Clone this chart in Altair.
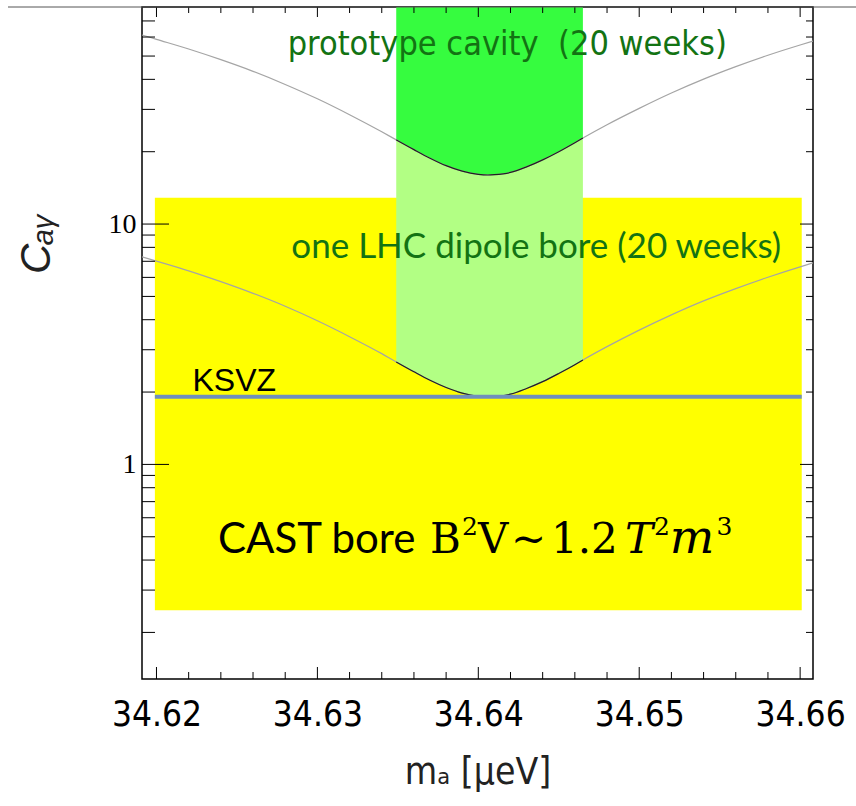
import altair as alt
import pandas as pd

# ---------------- data ----------------
mass = [34.6191, 34.620, 34.622, 34.624, 34.626, 34.628, 34.630, 34.632, 34.634, 34.6349,
        34.636, 34.637, 34.638, 34.639, 34.640, 34.6406, 34.641, 34.642, 34.643, 34.644,
        34.645, 34.646, 34.6465, 34.648, 34.650, 34.652, 34.654, 34.656, 34.658, 34.660, 34.6608]
c_lhc = [7.30, 7.01, 6.39, 5.76, 5.15, 4.55, 3.96, 3.40, 2.89, 2.67,
         2.43, 2.24, 2.09, 1.98, 1.92, 1.91, 1.915, 1.96, 2.07, 2.21,
         2.39, 2.60, 2.72, 3.09, 3.62, 4.19, 4.79, 5.39, 6.01, 6.64, 6.89]
c_proto = [61.2, 58.7, 53.5, 48.3, 43.2, 38.1, 33.2, 28.5, 24.2, 22.4,
           20.4, 18.8, 17.5, 16.6, 16.1, 16.0, 16.05, 16.4, 17.3, 18.5,
           20.0, 21.8, 22.8, 25.9, 30.3, 35.1, 40.1, 45.2, 50.4, 55.6, 57.7]

cast_m = [34.6199, 34.6601]
cast_c = [0.2475, 12.87]
band_m = [34.6349, 34.6465]
ksvz_c = 1.91

x_major = [34.62, 34.63, 34.64, 34.65, 34.66]
x_minor = [34.622, 34.624, 34.626, 34.628, 34.632, 34.634, 34.636, 34.638,
           34.642, 34.644, 34.646, 34.648, 34.652, 34.654, 34.656, 34.658]
y_major = [1, 10]
y_minor = [0.2, 0.3, 0.4, 0.5, 0.6, 0.7, 0.8, 0.9, 2, 3, 4, 5, 6, 7, 8, 9,
           20, 30, 40, 50, 60, 70]

x_dom = [34.6191, 34.6608]
y_dom = [0.128, 80]

W, H = 671, 672

# ---------------- tables ----------------
curves = pd.DataFrame({"m": mass, "lhc": c_lhc, "proto": c_proto})
band = curves[(curves.m >= band_m[0]) & (curves.m <= band_m[1])]
cast = pd.DataFrame({"m1": [cast_m[0]], "m2": [cast_m[1]], "c1": [cast_c[0]], "c2": [cast_c[1]]})
ksvz = pd.DataFrame({"m1": [cast_m[0]], "m2": [cast_m[1]], "c": [ksvz_c]})

xs = alt.Scale(domain=x_dom, nice=False, zero=False)
ys = alt.Scale(type="log", domain=y_dom, nice=False)

narrow = "Liberation Sans Narrow, Arial Narrow, DejaVu Sans Condensed, Liberation Sans"

x_axis = alt.Axis(values=x_major, format=".2f", ticks=False, domain=False, grid=False,
                  labelFont=narrow, labelFontSize=35, labelColor="black", labelPadding=18,
                  labelFlush=False, title="mₐ [μeV]", titleFont=narrow, titleFontSize=37,
                  titleFontWeight="normal", titleColor="#222", titlePadding=22)
y_axis = alt.Axis(values=y_major, format="~g", ticks=False, domain=False, grid=False,
                  labelFont="Liberation Serif", labelFontSize=28, labelColor="black",
                  labelPadding=6, title="Cₐᵧ", titleFont="Liberation Sans",
                  titleFontSize=42, titleFontWeight="normal", titleFontStyle="italic",
                  titleColor="#222", titleX=-84, titleY=236)


def X(f):
    return alt.X(f, type="quantitative", scale=xs, axis=x_axis)


def Y(f):
    return alt.Y(f, type="quantitative", scale=ys, axis=y_axis)


yellow = alt.Chart(cast).mark_rect(color="#ffff00").encode(
    x=X("m1"), x2="m2", y=Y("c1"), y2="c2")

green_top = alt.Chart(band).mark_area(color="#36fc3f", interpolate="monotone").encode(
    x=X("m"), y=Y("proto"), y2=alt.datum(y_dom[1]))
green_mid = alt.Chart(band).mark_area(color="#b2ff84", interpolate="monotone").encode(
    x=X("m"), y=Y("lhc"), y2="proto")

gray1 = alt.Chart(curves).mark_line(color="#a5a5a5", strokeWidth=1.2, interpolate="monotone", clip=True).encode(
    x=X("m"), y=Y("proto"))
gray2 = alt.Chart(curves).mark_line(color="#a5a5a5", strokeWidth=1.2, interpolate="monotone", clip=True).encode(
    x=X("m"), y=Y("lhc"))
dark1 = alt.Chart(band).mark_line(color="#222", strokeWidth=1.2, interpolate="monotone").encode(
    x=X("m"), y=Y("proto"))
dark2 = alt.Chart(band).mark_line(color="#222", strokeWidth=1.2, interpolate="monotone").encode(
    x=X("m"), y=Y("lhc"))

ksvz_line = alt.Chart(ksvz).mark_rule(color="#6f8fbd", strokeWidth=4).encode(
    x=X("m1"), x2="m2", y=Y("c"))


def label(text, m, c, size, font, color="black", align="center", style="normal", baseline="middle"):
    return alt.Chart(pd.DataFrame({"m": [m], "c": [c], "t": [text]})).mark_text(
        font=font, fontSize=size, color=color, align=align, baseline=baseline, fontStyle=style
    ).encode(x=X("m"), y=Y("c"), text="t:N")


green_txt = "#137313"
t_proto = label("prototype cavity\u00a0 (20 weeks)", 34.6418, 55.6, 34, "DejaVu Sans Condensed, DejaVu Sans", green_txt)
t_lhc = label("one LHC dipole bore (20 weeks)", 34.6436, 8.0, 35, "Lato", green_txt)
t_ksvz = label("KSVZ", 34.62224, 2.02, 32, "Liberation Sans", align="left", baseline="alphabetic")

base_c = 0.4276   # baseline of the CAST line
sup_c = 0.508     # baseline of its superscripts
serif = "DejaVu Serif, Liberation Serif"
A = dict(align="left", baseline="alphabetic")
cast_parts = [
    label("CAST bore", 34.62382, base_c, 42, "Lato", **A),
    label("B", 34.63700, base_c, 42, serif, **A),
    label("2", 34.63899, sup_c, 25, serif, **A),
    label("V", 34.63998, base_c, 42, serif, **A),
    label("~", 34.64203, base_c, 42, serif, **A),
    label("1.2", 34.64452, base_c, 42, serif, **A),
    label("T", 34.64912, base_c, 42, serif, style="italic", **A),
    label("2", 34.65092, sup_c, 25, serif, **A),
    label("m", 34.65190, base_c, 47, serif, style="italic", **A),
    label("3", 34.65480, sup_c, 25, serif, **A),
]


def ticks(vals, axis, pos, length):
    d = pd.DataFrame({"v": vals})
    ch = alt.Chart(d).mark_rule(color="black", strokeWidth=1)
    if axis == "x":
        y0 = H if pos == "bottom" else 0
        y1 = y0 - length if pos == "bottom" else length
        return ch.encode(x=X("v"), y=alt.value(y0), y2=alt.value(y1))
    x0 = 0 if pos == "left" else W
    x1 = length if pos == "left" else W - length
    return ch.encode(y=Y("v"), x=alt.value(x0), x2=alt.value(x1))


tick_layers = [
    ticks(x_major, "x", "bottom", 12), ticks(x_minor, "x", "bottom", 7),
    ticks(x_major, "x", "top", 10), ticks(x_minor, "x", "top", 6),
    ticks(y_major, "y", "left", 27), ticks(y_minor, "y", "left", 13),
    ticks(y_major, "y", "right", 13), ticks(y_minor, "y", "right", 7),
]

slide_line = alt.Chart(pd.DataFrame({"v": [0]})).mark_rule(color="#555", strokeWidth=1).encode(
    x=alt.value(-134), x2=alt.value(714), y=alt.value(0))

chart = alt.layer(
    yellow, green_top, green_mid, gray1, gray2, dark1, dark2, ksvz_line,
    t_proto, t_lhc, t_ksvz, *cast_parts, *tick_layers, slide_line
).properties(
    width=W, height=H, autosize="none",
    padding={"left": 142, "top": 7, "right": 43, "bottom": 127},
    background="white",
).configure_view(stroke="black", strokeWidth=1.5)

chart.save("out.html", embed_options={"renderer": "svg", "actions": False})
